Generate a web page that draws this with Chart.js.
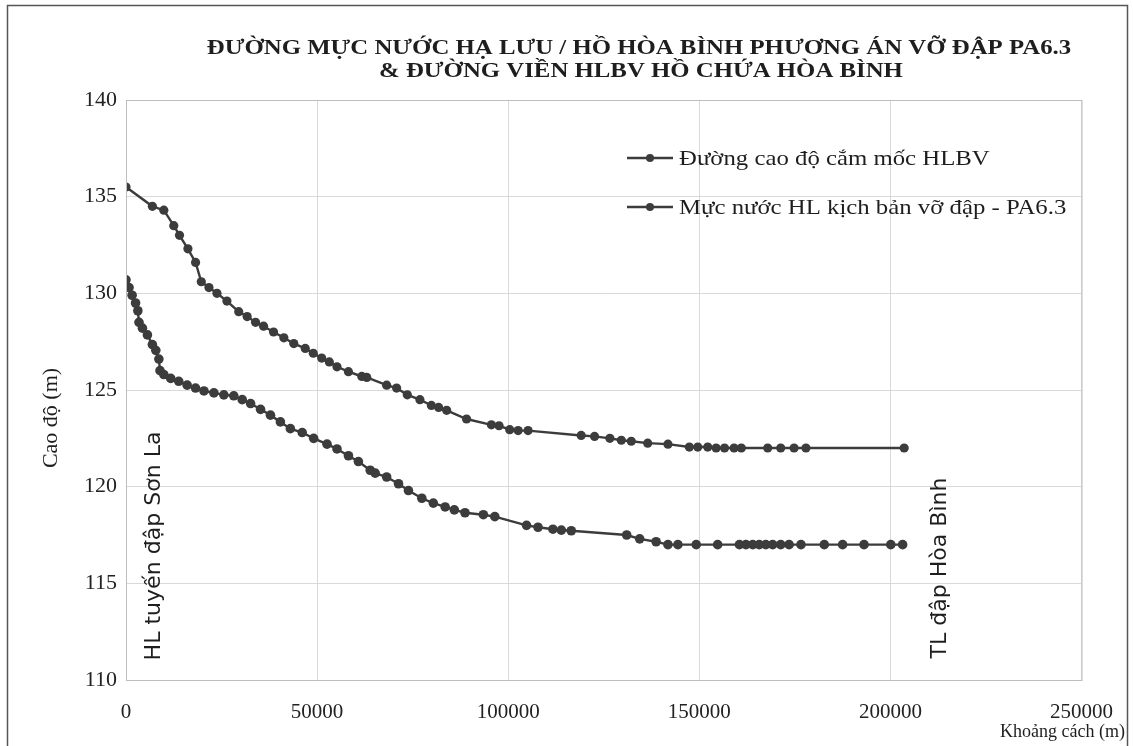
<!DOCTYPE html>
<html>
<head>
<meta charset="utf-8">
<script src="https://cdn.jsdelivr.net/npm/chart.js@4.4.1/dist/chart.umd.min.js"></script>
<style>
  html, body { margin: 0; padding: 0; background: #fff; }
  #wrap { width: 1133px; height: 746px; position: relative; }
</style>
</head>
<body>
<div id="wrap"><canvas id="c"></canvas></div>
<script>
// Đường cao độ cắm mốc HLBV
const hlbvX = [0, 6900, 9900, 12500, 14000, 16200, 18200, 19700, 21700, 23800, 26400, 29500, 31700, 33900, 36000, 38600, 41300, 43900, 46900, 49000, 51200, 53200, 55200, 58200, 61700, 63000, 68200, 70800, 73600, 76900, 79900, 81800, 83900, 89100, 95600, 97600, 100400, 102600, 105200, 119100, 122600, 126600, 129600, 132200, 136500, 141800, 147400, 149600, 152200, 154400, 156600, 159100, 161000, 167900, 171300, 174800, 177900, 203600];
const hlbvY = [135.5, 134.5, 134.3, 133.5, 133.0, 132.3, 131.6, 130.6, 130.3, 130.0, 129.6, 129.05, 128.8, 128.5, 128.3, 128.0, 127.7, 127.4, 127.15, 126.9, 126.65, 126.45, 126.2, 125.95, 125.7, 125.65, 125.25, 125.1, 124.75, 124.5, 124.2, 124.1, 123.95, 123.5, 123.2, 123.15, 122.95, 122.9, 122.9, 122.65, 122.6, 122.5, 122.4, 122.35, 122.25, 122.2, 122.05, 122.05, 122.05, 122.0, 122.0, 122.0, 122.0, 122.0, 122.0, 122.0, 122.0, 122.0];

// Mực nước HL kịch bản vỡ đập - PA6.3
const pa63X = [0, 800, 1600, 2500, 3100, 3400, 4300, 5600, 6900, 7800, 8600, 8900, 9900, 11700, 13800, 16000, 18200, 20400, 23000, 25600, 28200, 30400, 32600, 35200, 37800, 40400, 43000, 46100, 49100, 52600, 55200, 58200, 60800, 63900, 65200, 68200, 71300, 73900, 77400, 80400, 83500, 85900, 88700, 93500, 96500, 104800, 107800, 111700, 113900, 116500, 131000, 134400, 138700, 141800, 144400, 149200, 154800, 160500, 162200, 164000, 165700, 167400, 169200, 171300, 173500, 176600, 182700, 187500, 193100, 200100, 203200];
const pa63Y = [130.7, 130.3, 129.9, 129.5, 129.1, 128.5, 128.2, 127.85, 127.35, 127.05, 126.6, 126.0, 125.8, 125.6, 125.45, 125.25, 125.1, 124.95, 124.85, 124.75, 124.7, 124.5, 124.3, 124.0, 123.7, 123.35, 123.0, 122.8, 122.5, 122.2, 121.95, 121.6, 121.3, 120.85, 120.7, 120.5, 120.15, 119.8, 119.4, 119.15, 118.95, 118.8, 118.65, 118.55, 118.45, 118.0, 117.9, 117.8, 117.75, 117.72, 117.5, 117.3, 117.15, 117.0, 117.0, 117.0, 117.0, 117.0, 117.0, 117.0, 117.0, 117.0, 117.0, 117.0, 117.0, 117.0, 117.0, 117.0, 117.0, 117.0, 117.0];

const seriesNames = ['Đường cao độ cắm mốc HLBV', 'Mực nước HL kịch bản vỡ đập - PA6.3'];
const titleLines = ['ĐƯỜNG MỰC NƯỚC HẠ LƯU / HỒ HÒA BÌNH PHƯƠNG ÁN VỠ ĐẬP PA6.3', '& ĐƯỜNG VIỀN HLBV HỒ CHỨA HÒA BÌNH'];
const yTitle = 'Cao độ (m)';
const xTitle = 'Khoảng cách (m)';
const leftNote = 'HL tuyến đập Sơn La';
const rightNote = 'TL đập Hòa Bình';
const xMin = 0, xMax = 250000, xStep = 50000;
const yMin = 110, yMax = 140, yStep = 5;

const ink = '#3c3c3c';
const serif = "'Liberation Serif', 'Times New Roman', serif";
const sans = "'DejaVu Sans', 'Open Sans', sans-serif";

const toPts = (xs, ys) => xs.map((x, i) => ({ x: x, y: ys[i] }));

// stretched text helper (scan looks a bit wide)
function wideText(ctx, txt, x, y, sx, align) {
  ctx.save();
  ctx.translate(x, y);
  ctx.scale(sx, 1);
  ctx.textAlign = align || 'left';
  ctx.fillText(txt, 0, 0);
  ctx.restore();
}

const decor = {
  id: 'decor',
  beforeDraw(chart) {
    const ctx = chart.ctx;
    ctx.save();
    ctx.fillStyle = '#fff';
    ctx.fillRect(0, 0, chart.width, chart.height);
    ctx.restore();
  },
  afterDatasetsDraw(chart) {
    const { ctx, chartArea: a } = chart;
    ctx.save();
    // plot frame
    ctx.strokeStyle = '#bdbdbd';
    ctx.lineWidth = 1;
    ctx.strokeRect(a.left + 0.5, a.top + 0.5, a.right - a.left, a.bottom - a.top);
    // outer frame
    ctx.strokeStyle = '#555';
    ctx.lineWidth = 1.5;
    ctx.strokeRect(7.5, 5.5, 1120, 760);

    ctx.fillStyle = '#1e1e1e';
    // title
    ctx.font = "bold 20px " + serif;
    ctx.textBaseline = 'alphabetic';
    wideText(ctx, titleLines[0], 639, 54, 1.24, 'center');
    wideText(ctx, titleLines[1], 641, 77, 1.24, 'center');

    // axis titles
    ctx.font = "18px " + serif;
    wideText(ctx, xTitle, 1125, 737, 1.0, 'right');
    ctx.save();
    ctx.translate(57, 418);
    ctx.rotate(-Math.PI / 2);
    ctx.font = "20px " + serif;
    wideText(ctx, yTitle, 0, 0, 1.1, 'center');
    ctx.restore();

    // vertical notes
    ctx.font = "21px " + sans;
    ctx.save();
    ctx.translate(160, 546);
    ctx.rotate(-Math.PI / 2);
    wideText(ctx, leftNote, 0, 0, 1.05, 'center');
    ctx.restore();
    ctx.save();
    ctx.translate(946, 568);
    ctx.rotate(-Math.PI / 2);
    wideText(ctx, rightNote, 0, 0, 1.05, 'center');
    ctx.restore();

    // legend
    const lx = 627, rows = [158, 207];
    rows.forEach((ry, i) => {
      ctx.strokeStyle = ink;
      ctx.lineWidth = 2.5;
      ctx.beginPath();
      ctx.moveTo(lx, ry);
      ctx.lineTo(lx + 46, ry);
      ctx.stroke();
      ctx.fillStyle = ink;
      ctx.beginPath();
      ctx.arc(lx + 23, ry, 4, 0, Math.PI * 2);
      ctx.fill();
      ctx.fillStyle = '#1e1e1e';
      ctx.font = "21px " + serif;
      ctx.textBaseline = 'middle';
      wideText(ctx, seriesNames[i], lx + 52, ry + 1, 1.18, 'left');
    });
    ctx.restore();
  }
};

new Chart(document.getElementById('c'), {
  type: 'scatter',
  data: {
    datasets: [
      {
        label: seriesNames[0],
        data: toPts(hlbvX, hlbvY),
        showLine: true,
        borderColor: ink, backgroundColor: ink,
        borderWidth: 2.4, pointRadius: 4.6, pointBorderWidth: 0,
        tension: 0
      },
      {
        label: seriesNames[1],
        data: toPts(pa63X, pa63Y),
        showLine: true,
        borderColor: ink, backgroundColor: ink,
        borderWidth: 2.4, pointRadius: 4.8, pointBorderWidth: 0,
        tension: 0
      }
    ]
  },
  options: {
    responsive: true, maintainAspectRatio: false, animation: false,
    layout: { padding: { left: 8, top: 100, right: 40, bottom: 0 } },
    plugins: { legend: { display: false }, tooltip: { enabled: false }, title: { display: false } },
    scales: {
      x: {
        type: 'linear', min: xMin, max: xMax,
        grid: { color: '#d9d9d9', drawTicks: false },
        border: { display: false },
        ticks: { stepSize: xStep, padding: 20, color: '#222', font: { family: serif, size: 21 }, maxRotation: 0,
                 callback: v => String(v) },
        afterFit: s => { s.height = 66; }
      },
      y: {
        min: yMin, max: yMax,
        grid: { color: '#d9d9d9', drawTicks: false },
        border: { display: false },
        ticks: { stepSize: yStep, padding: 9, color: '#222', font: { family: serif, size: 22 },
                 callback: v => String(v) },
        afterFit: s => { s.width = 118; }
      }
    }
  },
  plugins: [decor]
});
</script>
</body>
</html>
